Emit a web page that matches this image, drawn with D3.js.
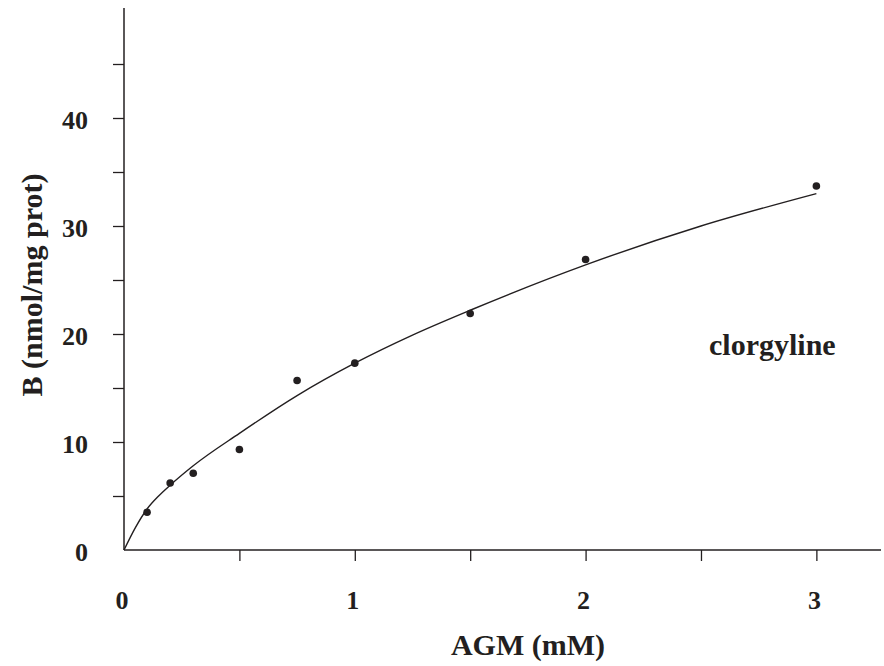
<html>
<head>
<meta charset="utf-8">
<style>
  body { margin: 0; background: #fff; }
  text { font-family: "Liberation Serif", "Times New Roman", serif; font-weight: bold; fill: #231f20; }
</style>
</head>
<body>
<script src="https://cdn.jsdelivr.net/npm/d3@7/dist/d3.min.js"></script>
<script>
	var width = 884;
	var height = 666;

	// measured points (AGM mM, B nmol/mg prot)
	var agm = [0.1, 0.2, 0.3, 0.5, 0.75, 1, 1.5, 2, 3];
	var bound = [3.5, 6.2, 7.1, 9.3, 15.7, 17.3, 21.9, 26.9, 33.7];

	// fitted curve
	var fitX = [0, 0.05, 0.1, 0.15, 0.2, 0.3, 0.5, 0.75, 1, 1.25, 1.5, 2, 2.5, 3];
	var fitY = [0, 2.1, 3.8, 5.0, 6.0, 7.8, 10.8, 14.3, 17.3, 19.9, 22.2, 26.4, 30.0, 33.0];

	var xTicks = [0.5, 1, 1.5, 2, 2.5, 3];
	var xLabels = [0, 1, 2, 3];
	var yTicks = [5, 10, 15, 20, 25, 30, 35, 40, 45];
	var yLabels = [0, 10, 20, 30, 40];

	var ink = "#231f20";

	var svg = d3.select("body")
		.append("svg")
		.attr("width", width)
		.attr("height", height);

	var x = d3.scaleLinear().domain([0, 3.28]).range([124, 881]);
	var y = d3.scaleLinear().domain([0, 50]).range([550, 10]);

	// axis lines
	svg.append("line")
		.attr("x1", x(0)).attr("x2", x(0))
		.attr("y1", y(0)).attr("y2", y(50) - 2)
		.attr("stroke", ink).attr("stroke-width", 1.5);
	svg.append("line")
		.attr("x1", x(0)).attr("x2", x(3.28))
		.attr("y1", y(0)).attr("y2", y(0))
		.attr("stroke", ink).attr("stroke-width", 1.5);

	// x ticks
	var xAxis = svg.append("g")
		.attr("transform", "translate(0," + y(0) + ")")
		.call(d3.axisBottom(x).tickValues(xTicks).tickSize(11).tickFormat(""));
	xAxis.select(".domain").remove();
	xAxis.selectAll("line").attr("stroke", ink).attr("stroke-width", 1.3);

	svg.selectAll(".xlab")
		.data(xLabels)
		.enter()
		.append("text")
		.attr("class", "xlab")
		.attr("x", function(d){ return x(d) - 2; })
		.attr("y", 609)
		.attr("text-anchor", "middle")
		.style("font-size", "26px")
		.text(function(d){ return d; });

	// y ticks
	var yAxis = svg.append("g")
		.attr("transform", "translate(" + x(0) + ",0)")
		.call(d3.axisLeft(y).tickValues(yTicks).tickSize(11).tickFormat(""));
	yAxis.select(".domain").remove();
	yAxis.selectAll("line").attr("stroke", ink).attr("stroke-width", 1.3);

	svg.selectAll(".ylab")
		.data(yLabels)
		.enter()
		.append("text")
		.attr("class", "ylab")
		.attr("x", 88)
		.attr("y", function(d){ return y(d) + 2; })
		.attr("dy", "0.35em")
		.attr("text-anchor", "end")
		.style("font-size", "26px")
		.text(function(d){ return d; });

	// fitted curve
	var line = d3.line()
		.x(function(d){ return x(d[0]); })
		.y(function(d){ return y(d[1]); })
		.curve(d3.curveMonotoneX);
	svg.append("path")
		.datum(d3.zip(fitX, fitY))
		.attr("d", line)
		.attr("fill", "none")
		.attr("stroke", ink)
		.attr("stroke-width", 1.4);

	// points
	svg.selectAll(".pt")
		.data(d3.zip(agm, bound))
		.enter()
		.append("circle")
		.attr("class", "pt")
		.attr("cx", function(d){ return x(d[0]); })
		.attr("cy", function(d){ return y(d[1]); })
		.attr("r", 3.8)
		.attr("fill", ink);

	// titles
	svg.append("text")
		.attr("x", 528)
		.attr("y", 655)
		.attr("text-anchor", "middle")
		.style("font-size", "30px")
		.text("AGM (mM)");

	svg.append("text")
		.attr("transform", "translate(42,285) rotate(-90)")
		.attr("text-anchor", "middle")
		.style("font-size", "30px")
		.text("B (nmol/mg prot)");

	svg.append("text")
		.attr("x", 709)
		.attr("y", 355)
		.style("font-size", "30px")
		.text("clorgyline");
</script>
</body>
</html>
